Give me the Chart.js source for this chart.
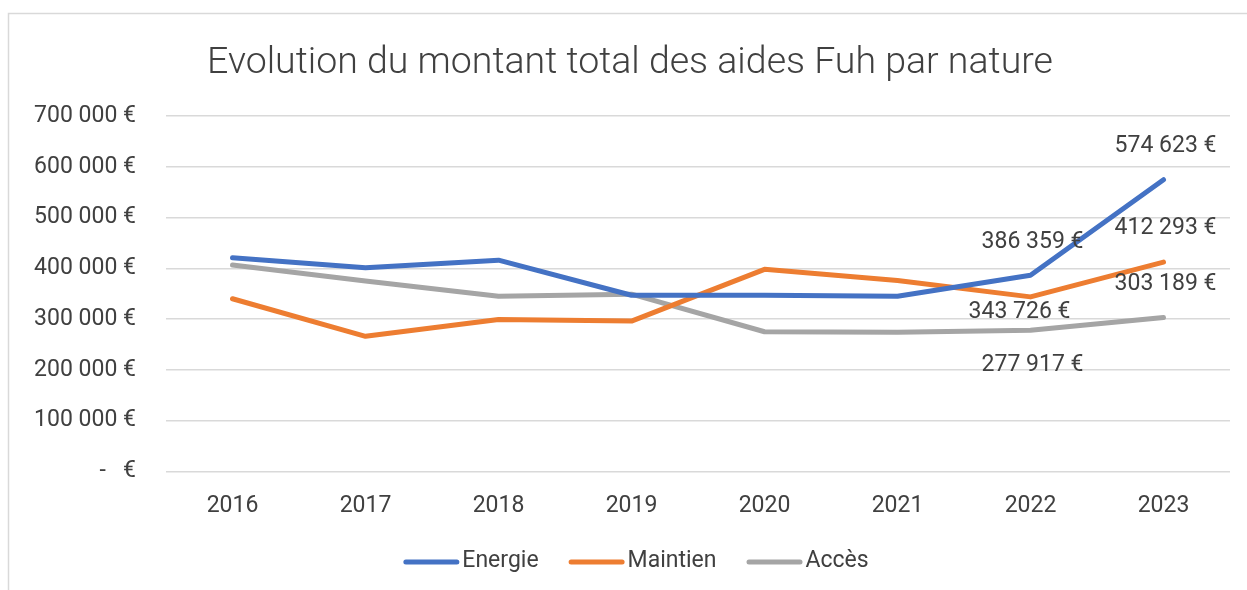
<!DOCTYPE html>
<html lang="fr">
<head>
  <meta charset="UTF-8" />
  <title>Evolution du montant total des aides Fuh par nature</title>
  <script src="https://cdn.jsdelivr.net/npm/chart.js@4"></script>
  <style>
    html, body { margin: 0; padding: 0; background: #fff; }
    #wrap { width: 1247px; height: 590px; position: relative; }
  </style>
</head>
<body>
  <div id="wrap"><canvas id="aidesChart"></canvas></div>
  <script>
    // donnees
    const annees = ['2016', '2017', '2018', '2019', '2020', '2021', '2022', '2023'];
    const energie = [421000, 401000, 416000, 347000, 347000, 345000, 386359, 574623];
    const maintien = [340000, 266000, 299000, 296000, 398000, 376000, 343726, 412293];
    const acces = [406500, 375000, 345000, 349000, 275000, 274000, 277917, 303189];
    const yTicks = [0, 100000, 200000, 300000, 400000, 500000, 600000, 700000];

    const TXT = '#404040';
    const FONT = 'Roboto, "Noto Sans", sans-serif';

    function euro(v) {
      if (v === 0) return '-   €';
      return String(Math.round(v)).replace(/\B(?=(\d{3})+(?!\d))/g, ' ') + ' €';
    }

    // cadre gris autour du graphique
    const cadre = {
      id: 'cadre',
      beforeDraw(chart) {
        const ctx = chart.ctx;
        ctx.save();
        ctx.strokeStyle = '#d9d9d9';
        ctx.lineWidth = 1.5;
        ctx.beginPath();
        ctx.moveTo(8.5, chart.height);
        ctx.lineTo(8.5, 13.5);
        ctx.lineTo(chart.width, 13.5);
        ctx.stroke();
        ctx.restore();
      }
    };

    // etiquettes de valeur sur 2022 et 2023
    const etiquettes = {
      id: 'etiquettes',
      afterDatasetsDraw(chart, args, opts) {
        const ctx = chart.ctx;
        ctx.save();
        ctx.font = '23px ' + FONT;
        ctx.fillStyle = TXT;
        ctx.textAlign = 'center';
        ctx.textBaseline = 'middle';
        chart.data.datasets.forEach((ds, i) => {
          const meta = chart.getDatasetMeta(i);
          opts.points.forEach((idx, k) => {
            const pt = meta.data[idx];
            const off = opts.offsets[i][k];
            ctx.fillText(euro(ds.data[idx]), pt.x + off[0], pt.y + off[1]);
          });
        });
        ctx.restore();
      }
    };

    // legende façon Excel : trait arrondi colle au texte
    const legende = {
      id: 'legende',
      afterDraw(chart, args, opts) {
        const ctx = chart.ctx;
        ctx.save();
        ctx.font = '23px ' + FONT;
        ctx.textBaseline = 'middle';
        ctx.textAlign = 'left';
        const items = chart.data.datasets.map(ds => ({
          text: ds.label, color: ds.borderColor, w: ctx.measureText(ds.label).width
        }));
        const total = items.reduce((s, it) => s + opts.line + opts.gap + it.w, 0) + opts.spacing * (items.length - 1);
        let x = opts.cx - total / 2;
        const y = opts.cy;
        items.forEach(it => {
          ctx.strokeStyle = it.color;
          ctx.lineWidth = 5;
          ctx.lineCap = 'round';
          ctx.beginPath();
          ctx.moveTo(x + 2.5, y + 1);
          ctx.lineTo(x + opts.line - 2.5, y + 1);
          ctx.stroke();
          ctx.fillStyle = TXT;
          ctx.fillText(it.text, x + opts.line + opts.gap, y);
          x += opts.line + opts.gap + it.w + opts.spacing;
        });
        ctx.restore();
      }
    };

    function serie(label, data, color) {
      return {
        label, data,
        borderColor: color,
        backgroundColor: color,
        borderWidth: 5,
        borderCapStyle: 'round',
        borderJoinStyle: 'round',
        pointRadius: 0,
        pointHoverRadius: 0,
        tension: 0,
        fill: false
      };
    }

    new Chart(document.getElementById('aidesChart'), {
      type: 'line',
      data: {
        labels: annees,
        datasets: [
          serie('Energie', energie, '#4472C4'),
          serie('Maintien', maintien, '#ED7D31'),
          serie('Accès', acces, '#A5A5A5')
        ]
      },
      options: {
        responsive: true,
        maintainAspectRatio: false,
        animation: false,
        events: [],
        layout: { padding: { left: 30, right: 17, top: 0, bottom: 49 } },
        scales: {
          x: {
            offset: true,
            grid: { display: false, drawTicks: false },
            border: { display: false },
            ticks: { color: TXT, font: { family: FONT, size: 23 }, padding: 21, maxRotation: 0 }
          },
          y: {
            min: 0,
            max: 700000,
            afterBuildTicks(scale) { scale.ticks = yTicks.map(v => ({ value: v })); },
            afterFit(scale) { scale.width = 136; },
            grid: { color: '#d9d9d9', lineWidth: 1.5, drawTicks: false },
            border: { display: false },
            ticks: { color: TXT, font: { family: FONT, size: 23 }, padding: 30, callback: v => euro(v) }
          }
        },
        plugins: {
          title: {
            display: true,
            text: 'Evolution du montant total des aides Fuh par nature',
            color: TXT,
            font: { family: FONT, size: 37.5, weight: '300' },
            padding: { top: 41, bottom: 30 }
          },
          legend: { display: false },
          tooltip: { enabled: false },
          legende: { cx: 636, cy: 561, line: 56, gap: 3, spacing: 30 },
          etiquettes: {
            points: [6, 7],
            offsets: [
              [[2, -33], [2, -33]],
              [[-11, 15], [2, -34]],
              [[2, 35], [2, -33]]
            ]
          }
        }
      },
      plugins: [cadre, etiquettes, legende]
    });
  </script>
</body>
</html>
